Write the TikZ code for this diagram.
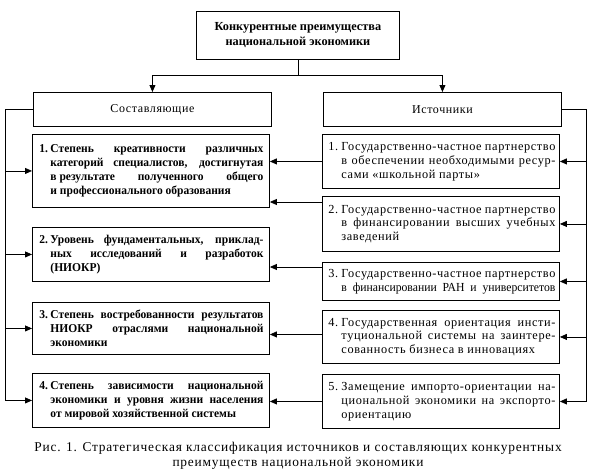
\documentclass[tikz,border=0pt]{standalone}
\usepackage{fontspec}
\setmainfont{Liberation Serif}
\newfontfamily\lsfont[LetterSpace=5]{Liberation Serif}
\newfontfamily\narrowfont[FakeStretch=0.95]{Liberation Serif}
\newfontfamily\bnarrow[FakeStretch=0.96]{Liberation Serif}
\newfontfamily\capfont[LetterSpace=6]{Liberation Serif}
\usetikzlibrary{arrows.meta}
\newcommand\rnum[2]{\noindent\hspace*{2pt}\makebox[13pt][l]{#1}\parbox[t]{214pt}{\baselineskip=13.8pt\rightskip=0pt\leftskip=0pt #2}}
\newcommand\lnum[2]{\noindent\hspace*{3pt}\makebox[11pt][l]{#1}\parbox[t]{213pt}{\baselineskip=14.1pt\rightskip=0pt\leftskip=0pt #2}}
\hyphenpenalty=10000
\begin{document}
\begin{tikzpicture}[x=1pt,y=-1pt,
  box/.style={draw,line width=0.9pt,inner xsep=4pt,inner ysep=2pt,minimum width=237pt,text width=229pt,align=justify,anchor=north west},
  rbox/.style={box,font=\fontsize{12.3}{13.8}\selectfont\lsfont},
  lbox/.style={box,font=\fontsize{12}{14.1}\selectfont\bnarrow\bfseries},
  hbox/.style={draw,line width=0.9pt,minimum width=238pt,minimum height=34pt,anchor=north west,font=\fontsize{12}{14}\selectfont\lsfont},
  conn/.style={line width=0.8pt},
  arr/.style={conn,-{Triangle[length=7pt,width=6pt]}}]
\useasboundingbox (0,0) rectangle (595,472);
\node[draw,line width=0.9pt,minimum width=203pt,minimum height=48pt,align=center,
  font=\fontsize{12.3}{15}\selectfont\bfseries,anchor=north west] (T) at (196,11)
  {Конкурентные преимущества\\национальной экономики};
\node[hbox] (S) at (33,92) {Составляющие};
\node[hbox] (I) at (323,92) {Источники};
% left boxes
\node[lbox,minimum height=73pt] (L1) at (32,134)
  {\lnum{1.}{Степень креативности различных\linebreak категорий специалистов, достигнутая\linebreak \mbox{в результате} полученного общего\linebreak и профессионального образования}};
\node[lbox,minimum height=54pt] (L2) at (32,227)
  {\lnum{2.}{Уровень фундаментальных, приклад-\linebreak ных исследований и разработок\linebreak (НИОКР)}};
\node[lbox,minimum height=52pt] (L3) at (32,302)
  {\lnum{3.}{Степень востребованности результатов\linebreak НИОКР отраслями национальной\linebreak экономики}};
\node[lbox,minimum height=54pt] (L4) at (32,373)
  {\lnum{4.}{Степень зависимости национальной\linebreak экономики и уровня жизни населения\linebreak от мировой хозяйственной системы}};
% right boxes
\node[rbox,minimum height=54pt] (R1) at (322,134)
  {\rnum{1.}{Государственно-частное партнерство\linebreak в обеспечении необходимыми ресур-\linebreak сами «школьной парты»}};
\node[rbox,minimum height=55pt] (R2) at (322,196)
  {\rnum{2.}{Государственно-частное партнерство\linebreak в финансировании высших учебных\linebreak заведений}};
\node[rbox,minimum height=38pt] (R3) at (322,262)
  {\rnum{3.}{\parfillskip=0pt Государственно-частное партнерство\linebreak {\narrowfont в финансировании РАН и университетов}}};
\node[rbox,minimum height=53pt] (R4) at (322,310)
  {\rnum{4.}{Государственная ориентация инсти-\linebreak туциональной системы на заинтере-\linebreak сованность бизнеса в инновациях}};
\node[rbox,minimum height=54pt] (R5) at (322,374)
  {\rnum{5.}{Замещение импорто-ориентации на-\linebreak циональной экономики на экспорто-\linebreak ориентацию}};
% caption
\node[font=\fontsize{13.4}{15}\selectfont\capfont,align=center] (cap) at (298,456)
  {Рис. 1. Стратегическая классификация источников и составляющих конкурентных\\преимуществ национальной экономики};
% connectors
\draw[conn] (T.south) -- ++(0,15) coordinate (tm);
\draw[arr] (tm) -| (S.north);
\draw[arr] (tm) -| (I.north);
\coordinate (lb) at (5,0);
\coordinate (rb) at (586,0);
\draw[arr] (S.west) -- (S.west -| lb) |- (L4.west);
\foreach \n in {L1,L2,L3} \draw[arr] (\n.west -| lb) -- (\n.west);
\draw[arr] (I.east) -- (I.east -| rb) |- (R5.east);
\foreach \n in {R1,R2,R3,R4} \draw[arr] (\n.east -| rb) -- (\n.east);
\draw[arr] (R1.west) -- (R1.west -| L1.east);
\draw[arr] ([yshift=-6pt]R2.north west) -- ([yshift=-6pt]R2.north west -| L1.east);
\draw[arr] ([yshift=-5pt]R3.north west) -- ([yshift=-5pt]R3.north west -| L2.east);
\draw[arr] ([yshift=2.5pt]R4.west) -- ([yshift=2.5pt]R4.west -| L3.east);
\draw[arr] (R5.west) -- (R5.west -| L4.east);
\end{tikzpicture}
\end{document}
